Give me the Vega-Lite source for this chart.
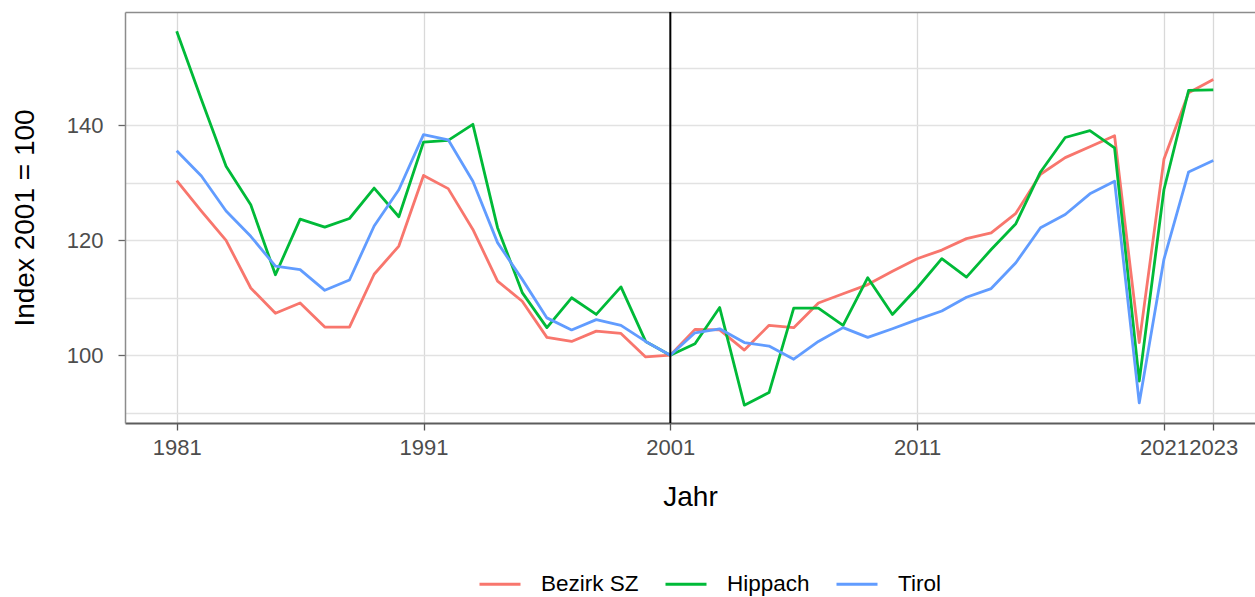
{
  "$schema": "https://vega.github.io/schema/vega-lite/v6.json",
  "width": 1130,
  "height": 411,
  "autosize": {"type": "none"},
  "padding": {"left": 125, "top": 12, "right": 0, "bottom": 174},
  "config": {
    "view": {"stroke": null},
    "font": "Liberation Sans",
    "legend": {"labelFont": "Liberation Sans"}
  },
  "datasets": {
    "index": [
      {"Jahr": 1981, "Region": "Bezirk SZ", "Index": 130.4}, {"Jahr": 1981, "Region": "Hippach", "Index": 156.4}, {"Jahr": 1981, "Region": "Tirol", "Index": 135.6},
      {"Jahr": 1982, "Region": "Bezirk SZ", "Index": 125.1}, {"Jahr": 1982, "Region": "Hippach", "Index": 144.5}, {"Jahr": 1982, "Region": "Tirol", "Index": 131.2},
      {"Jahr": 1983, "Region": "Bezirk SZ", "Index": 120.0}, {"Jahr": 1983, "Region": "Hippach", "Index": 132.9}, {"Jahr": 1983, "Region": "Tirol", "Index": 125.1},
      {"Jahr": 1984, "Region": "Bezirk SZ", "Index": 111.7}, {"Jahr": 1984, "Region": "Hippach", "Index": 126.2}, {"Jahr": 1984, "Region": "Tirol", "Index": 120.7},
      {"Jahr": 1985, "Region": "Bezirk SZ", "Index": 107.3}, {"Jahr": 1985, "Region": "Hippach", "Index": 114.0}, {"Jahr": 1985, "Region": "Tirol", "Index": 115.5},
      {"Jahr": 1986, "Region": "Bezirk SZ", "Index": 109.1}, {"Jahr": 1986, "Region": "Hippach", "Index": 123.7}, {"Jahr": 1986, "Region": "Tirol", "Index": 114.9},
      {"Jahr": 1987, "Region": "Bezirk SZ", "Index": 104.9}, {"Jahr": 1987, "Region": "Hippach", "Index": 122.3}, {"Jahr": 1987, "Region": "Tirol", "Index": 111.3},
      {"Jahr": 1988, "Region": "Bezirk SZ", "Index": 104.9}, {"Jahr": 1988, "Region": "Hippach", "Index": 123.8}, {"Jahr": 1988, "Region": "Tirol", "Index": 113.1},
      {"Jahr": 1989, "Region": "Bezirk SZ", "Index": 114.1}, {"Jahr": 1989, "Region": "Hippach", "Index": 129.1}, {"Jahr": 1989, "Region": "Tirol", "Index": 122.5},
      {"Jahr": 1990, "Region": "Bezirk SZ", "Index": 119.0}, {"Jahr": 1990, "Region": "Hippach", "Index": 124.1}, {"Jahr": 1990, "Region": "Tirol", "Index": 128.8},
      {"Jahr": 1991, "Region": "Bezirk SZ", "Index": 131.3}, {"Jahr": 1991, "Region": "Hippach", "Index": 137.1}, {"Jahr": 1991, "Region": "Tirol", "Index": 138.4},
      {"Jahr": 1992, "Region": "Bezirk SZ", "Index": 129.0}, {"Jahr": 1992, "Region": "Hippach", "Index": 137.4}, {"Jahr": 1992, "Region": "Tirol", "Index": 137.5},
      {"Jahr": 1993, "Region": "Bezirk SZ", "Index": 121.9}, {"Jahr": 1993, "Region": "Hippach", "Index": 140.2}, {"Jahr": 1993, "Region": "Tirol", "Index": 130.3},
      {"Jahr": 1994, "Region": "Bezirk SZ", "Index": 112.9}, {"Jahr": 1994, "Region": "Hippach", "Index": 122.2}, {"Jahr": 1994, "Region": "Tirol", "Index": 119.6},
      {"Jahr": 1995, "Region": "Bezirk SZ", "Index": 109.4}, {"Jahr": 1995, "Region": "Hippach", "Index": 110.9}, {"Jahr": 1995, "Region": "Tirol", "Index": 113.2},
      {"Jahr": 1996, "Region": "Bezirk SZ", "Index": 103.1}, {"Jahr": 1996, "Region": "Hippach", "Index": 104.8}, {"Jahr": 1996, "Region": "Tirol", "Index": 106.5},
      {"Jahr": 1997, "Region": "Bezirk SZ", "Index": 102.4}, {"Jahr": 1997, "Region": "Hippach", "Index": 110.0}, {"Jahr": 1997, "Region": "Tirol", "Index": 104.4},
      {"Jahr": 1998, "Region": "Bezirk SZ", "Index": 104.2}, {"Jahr": 1998, "Region": "Hippach", "Index": 107.1}, {"Jahr": 1998, "Region": "Tirol", "Index": 106.2},
      {"Jahr": 1999, "Region": "Bezirk SZ", "Index": 103.8}, {"Jahr": 1999, "Region": "Hippach", "Index": 111.9}, {"Jahr": 1999, "Region": "Tirol", "Index": 105.2},
      {"Jahr": 2000, "Region": "Bezirk SZ", "Index": 99.7}, {"Jahr": 2000, "Region": "Hippach", "Index": 102.4}, {"Jahr": 2000, "Region": "Tirol", "Index": 102.4},
      {"Jahr": 2001, "Region": "Bezirk SZ", "Index": 100.0}, {"Jahr": 2001, "Region": "Hippach", "Index": 100.0}, {"Jahr": 2001, "Region": "Tirol", "Index": 100.0},
      {"Jahr": 2002, "Region": "Bezirk SZ", "Index": 104.5}, {"Jahr": 2002, "Region": "Hippach", "Index": 102.0}, {"Jahr": 2002, "Region": "Tirol", "Index": 103.9},
      {"Jahr": 2003, "Region": "Bezirk SZ", "Index": 104.4}, {"Jahr": 2003, "Region": "Hippach", "Index": 108.3}, {"Jahr": 2003, "Region": "Tirol", "Index": 104.6},
      {"Jahr": 2004, "Region": "Bezirk SZ", "Index": 100.9}, {"Jahr": 2004, "Region": "Hippach", "Index": 91.3}, {"Jahr": 2004, "Region": "Tirol", "Index": 102.2},
      {"Jahr": 2005, "Region": "Bezirk SZ", "Index": 105.2}, {"Jahr": 2005, "Region": "Hippach", "Index": 93.5}, {"Jahr": 2005, "Region": "Tirol", "Index": 101.6},
      {"Jahr": 2006, "Region": "Bezirk SZ", "Index": 104.8}, {"Jahr": 2006, "Region": "Hippach", "Index": 108.2}, {"Jahr": 2006, "Region": "Tirol", "Index": 99.3},
      {"Jahr": 2007, "Region": "Bezirk SZ", "Index": 109.1}, {"Jahr": 2007, "Region": "Hippach", "Index": 108.2}, {"Jahr": 2007, "Region": "Tirol", "Index": 102.4},
      {"Jahr": 2008, "Region": "Bezirk SZ", "Index": 110.7}, {"Jahr": 2008, "Region": "Hippach", "Index": 105.2}, {"Jahr": 2008, "Region": "Tirol", "Index": 104.8},
      {"Jahr": 2009, "Region": "Bezirk SZ", "Index": 112.3}, {"Jahr": 2009, "Region": "Hippach", "Index": 113.5}, {"Jahr": 2009, "Region": "Tirol", "Index": 103.1},
      {"Jahr": 2010, "Region": "Bezirk SZ", "Index": 114.6}, {"Jahr": 2010, "Region": "Hippach", "Index": 107.1}, {"Jahr": 2010, "Region": "Tirol", "Index": 104.6},
      {"Jahr": 2011, "Region": "Bezirk SZ", "Index": 116.8}, {"Jahr": 2011, "Region": "Hippach", "Index": 111.7}, {"Jahr": 2011, "Region": "Tirol", "Index": 106.2},
      {"Jahr": 2012, "Region": "Bezirk SZ", "Index": 118.3}, {"Jahr": 2012, "Region": "Hippach", "Index": 116.8}, {"Jahr": 2012, "Region": "Tirol", "Index": 107.7},
      {"Jahr": 2013, "Region": "Bezirk SZ", "Index": 120.3}, {"Jahr": 2013, "Region": "Hippach", "Index": 113.6}, {"Jahr": 2013, "Region": "Tirol", "Index": 110.1},
      {"Jahr": 2014, "Region": "Bezirk SZ", "Index": 121.3}, {"Jahr": 2014, "Region": "Hippach", "Index": 118.4}, {"Jahr": 2014, "Region": "Tirol", "Index": 111.6},
      {"Jahr": 2015, "Region": "Bezirk SZ", "Index": 124.7}, {"Jahr": 2015, "Region": "Hippach", "Index": 122.9}, {"Jahr": 2015, "Region": "Tirol", "Index": 116.1},
      {"Jahr": 2016, "Region": "Bezirk SZ", "Index": 131.5}, {"Jahr": 2016, "Region": "Hippach", "Index": 131.9}, {"Jahr": 2016, "Region": "Tirol", "Index": 122.2},
      {"Jahr": 2017, "Region": "Bezirk SZ", "Index": 134.4}, {"Jahr": 2017, "Region": "Hippach", "Index": 137.9}, {"Jahr": 2017, "Region": "Tirol", "Index": 124.5},
      {"Jahr": 2018, "Region": "Bezirk SZ", "Index": 136.3}, {"Jahr": 2018, "Region": "Hippach", "Index": 139.1}, {"Jahr": 2018, "Region": "Tirol", "Index": 128.1},
      {"Jahr": 2019, "Region": "Bezirk SZ", "Index": 138.2}, {"Jahr": 2019, "Region": "Hippach", "Index": 136.1}, {"Jahr": 2019, "Region": "Tirol", "Index": 130.3},
      {"Jahr": 2020, "Region": "Bezirk SZ", "Index": 102.2}, {"Jahr": 2020, "Region": "Hippach", "Index": 95.5}, {"Jahr": 2020, "Region": "Tirol", "Index": 91.7},
      {"Jahr": 2021, "Region": "Bezirk SZ", "Index": 134.1}, {"Jahr": 2021, "Region": "Hippach", "Index": 128.8}, {"Jahr": 2021, "Region": "Tirol", "Index": 116.7},
      {"Jahr": 2022, "Region": "Bezirk SZ", "Index": 145.7}, {"Jahr": 2022, "Region": "Hippach", "Index": 146.1}, {"Jahr": 2022, "Region": "Tirol", "Index": 131.9},
      {"Jahr": 2023, "Region": "Bezirk SZ", "Index": 148.0}, {"Jahr": 2023, "Region": "Hippach", "Index": 146.2}, {"Jahr": 2023, "Region": "Tirol", "Index": 133.9}
    ],
    "reference": [{"Jahr": 2001}]
  },
  "layer": [
    {
      "data": {"name": "index"},
      "mark": {"type": "line", "strokeWidth": 2.8, "strokeJoin": "round"},
      "encoding": {
        "x": {
          "field": "Jahr", "type": "quantitative",
          "scale": {"domain": [1978.905, 2024.69], "nice": false, "zero": false},
          "axis": {
            "orient": "bottom",
            "values": [1981, 1991, 2001, 2011, 2021, 2023],
            "format": "d",
            "labelFontSize": 22, "labelColor": "#4d4d4d", "labelPadding": 7,
            "labelOverlap": false, "labelFlush": false,
            "tickSize": 7, "tickColor": "#555555", "tickWidth": 1.3,
            "domainColor": "#5c5c5c", "domainWidth": 2,
            "grid": true, "gridColor": "#d9d9d9", "gridWidth": 1.3,
            "title": "Jahr", "titleFontSize": 28, "titleFontWeight": "normal",
            "titleColor": "#000000", "titlePadding": 25
          }
        },
        "y": {
          "field": "Index", "type": "quantitative",
          "scale": {"domain": [88.2, 159.75], "nice": false, "zero": false},
          "axis": {
            "orient": "left",
            "values": [90, 100, 110, 120, 130, 140, 150],
            "labelExpr": "datum.value % 20 === 0 ? datum.label : ''",
            "labelFontSize": 22, "labelColor": "#4d4d4d", "labelPadding": 15,
            "tickSize": 7, "tickColor": "#666666", "tickWidth": 1.3,
            "tickOpacity": {"condition": {"test": "datum.value % 20 === 0", "value": 1}, "value": 0},
            "domainColor": "#8c8c8c", "domainWidth": 1.5,
            "grid": true, "gridColor": "#e2e2e2", "gridWidth": 1.4,
            "title": "Index 2001 = 100", "titleFontSize": 28, "titleFontWeight": "normal",
            "titleColor": "#000000", "titlePadding": 27
          }
        },
        "color": {
          "field": "Region", "type": "nominal",
          "scale": {"domain": ["Bezirk SZ", "Hippach", "Tirol"], "range": ["#F8766D", "#00BA38", "#619CFF"]},
          "legend": {
            "orient": "none", "legendX": 353, "legendY": 550,
            "direction": "horizontal", "title": null,
            "symbolType": "stroke", "symbolSize": 1681, "symbolStrokeWidth": 3,
            "labelFontSize": 22.5, "labelColor": "#000000", "labelOffset": 19,
            "columnPadding": 20
          }
        }
      }
    },
    {
      "data": {"name": "reference"},
      "mark": {"type": "rule", "color": "#000000", "strokeWidth": 2},
      "encoding": {
        "x": {
          "field": "Jahr", "type": "quantitative",
          "scale": {"domain": [1978.905, 2024.69], "nice": false, "zero": false},
          "axis": {
            "orient": "top", "labels": false, "ticks": false, "grid": false,
            "domain": true, "domainColor": "#8c8c8c", "domainWidth": 1.5, "title": null
          }
        }
      }
    }
  ],
  "resolve": {"axis": {"x": "independent"}}
}
